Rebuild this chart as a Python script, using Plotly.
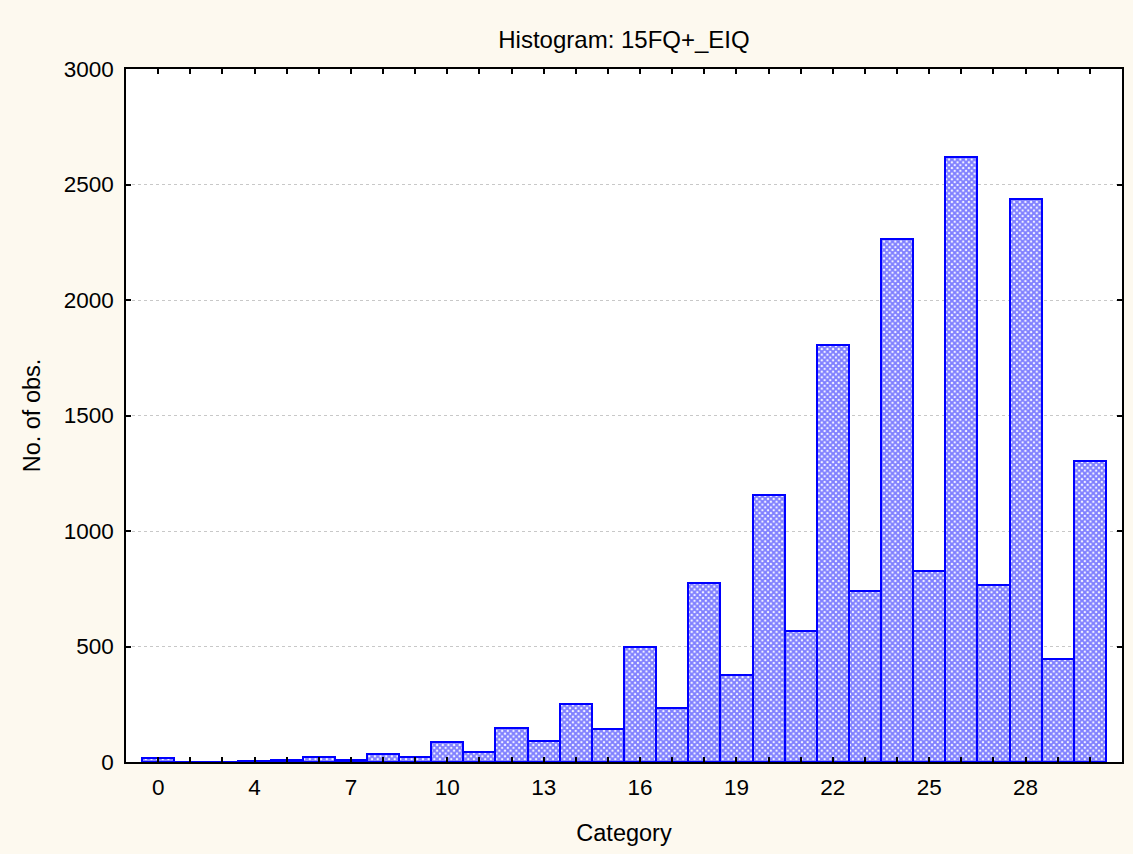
import plotly.graph_objects as go

categories = ["0", "2", "3", "4", "5", "6", "7", "8", "9", "10",
              "11", "12", "13", "14", "15", "16", "17", "18", "19", "20",
              "21", "22", "23", "24", "25", "26", "27", "28", "29", "30"]
counts = [17, 0, 0, 5, 7, 22, 8, 35, 20, 87,
          45, 148, 89, 250, 143, 500, 232, 773, 377, 1156,
          569, 1806, 739, 2262, 825, 2621, 768, 2438, 448, 1301]
shown_labels = ["0", "4", "7", "10", "13", "16", "19", "22", "25", "28"]
y_ticks = [0, 500, 1000, 1500, 2000, 2500, 3000]

ticktext = [c if c in shown_labels else "" for c in categories]

fig = go.Figure()
fig.add_trace(go.Bar(
    x=categories, y=counts,
    marker=dict(color="white",
                line=dict(color="#0000ff", width=2),
                pattern=dict(shape="x", fgcolor="#0000ff", bgcolor="white",
                             size=4, solidity=0.75)),
    width=1.0,
))

font = "Liberation Sans, Arial, sans-serif"
fig.update_layout(
    width=1133, height=854,
    margin=dict(l=126, r=9, t=69, b=92),
    paper_bgcolor="#fdf9ef", plot_bgcolor="white",
    bargap=0, showlegend=False,
    font=dict(family=font, size=22.5, color="black"),
    title=dict(text="Histogram: 15FQ+_EIQ", x=0.5, xref="paper",
               y=1 - 40 / 854, yref="container", yanchor="middle",
               font=dict(size=24, family=font, color="black")),
)
fig.update_xaxes(
    type="category", range=[-1, 30],
    tickmode="array", tickvals=categories, ticktext=ticktext,
    ticks="inside", ticklen=5, tickwidth=1.5, tickcolor="black",
    showline=True, linecolor="black", linewidth=1.5, mirror="ticks",
    showgrid=False, zeroline=False, ticklabelstandoff=4,
    title=dict(text="Category", standoff=26, font=dict(size=23.5)),
    tickfont=dict(size=22.5),
)
fig.update_yaxes(
    range=[0, 3000], tickmode="array", tickvals=y_ticks,
    ticks="inside", ticklen=5, tickwidth=1.5, tickcolor="black",
    showline=True, linecolor="black", linewidth=1.5, mirror="ticks",
    showgrid=True, gridcolor="#c8c8c8", griddash="dot", gridwidth=1,
    zeroline=False, ticklabelstandoff=6,
    title=dict(text="No. of obs.", standoff=16, font=dict(size=23.5)),
    tickfont=dict(size=22.5),
)
fig.write_html("out.html", config={"displayModeBar": False},
               post_script="document.body.style.margin='0';document.body.style.overflow='hidden';")
